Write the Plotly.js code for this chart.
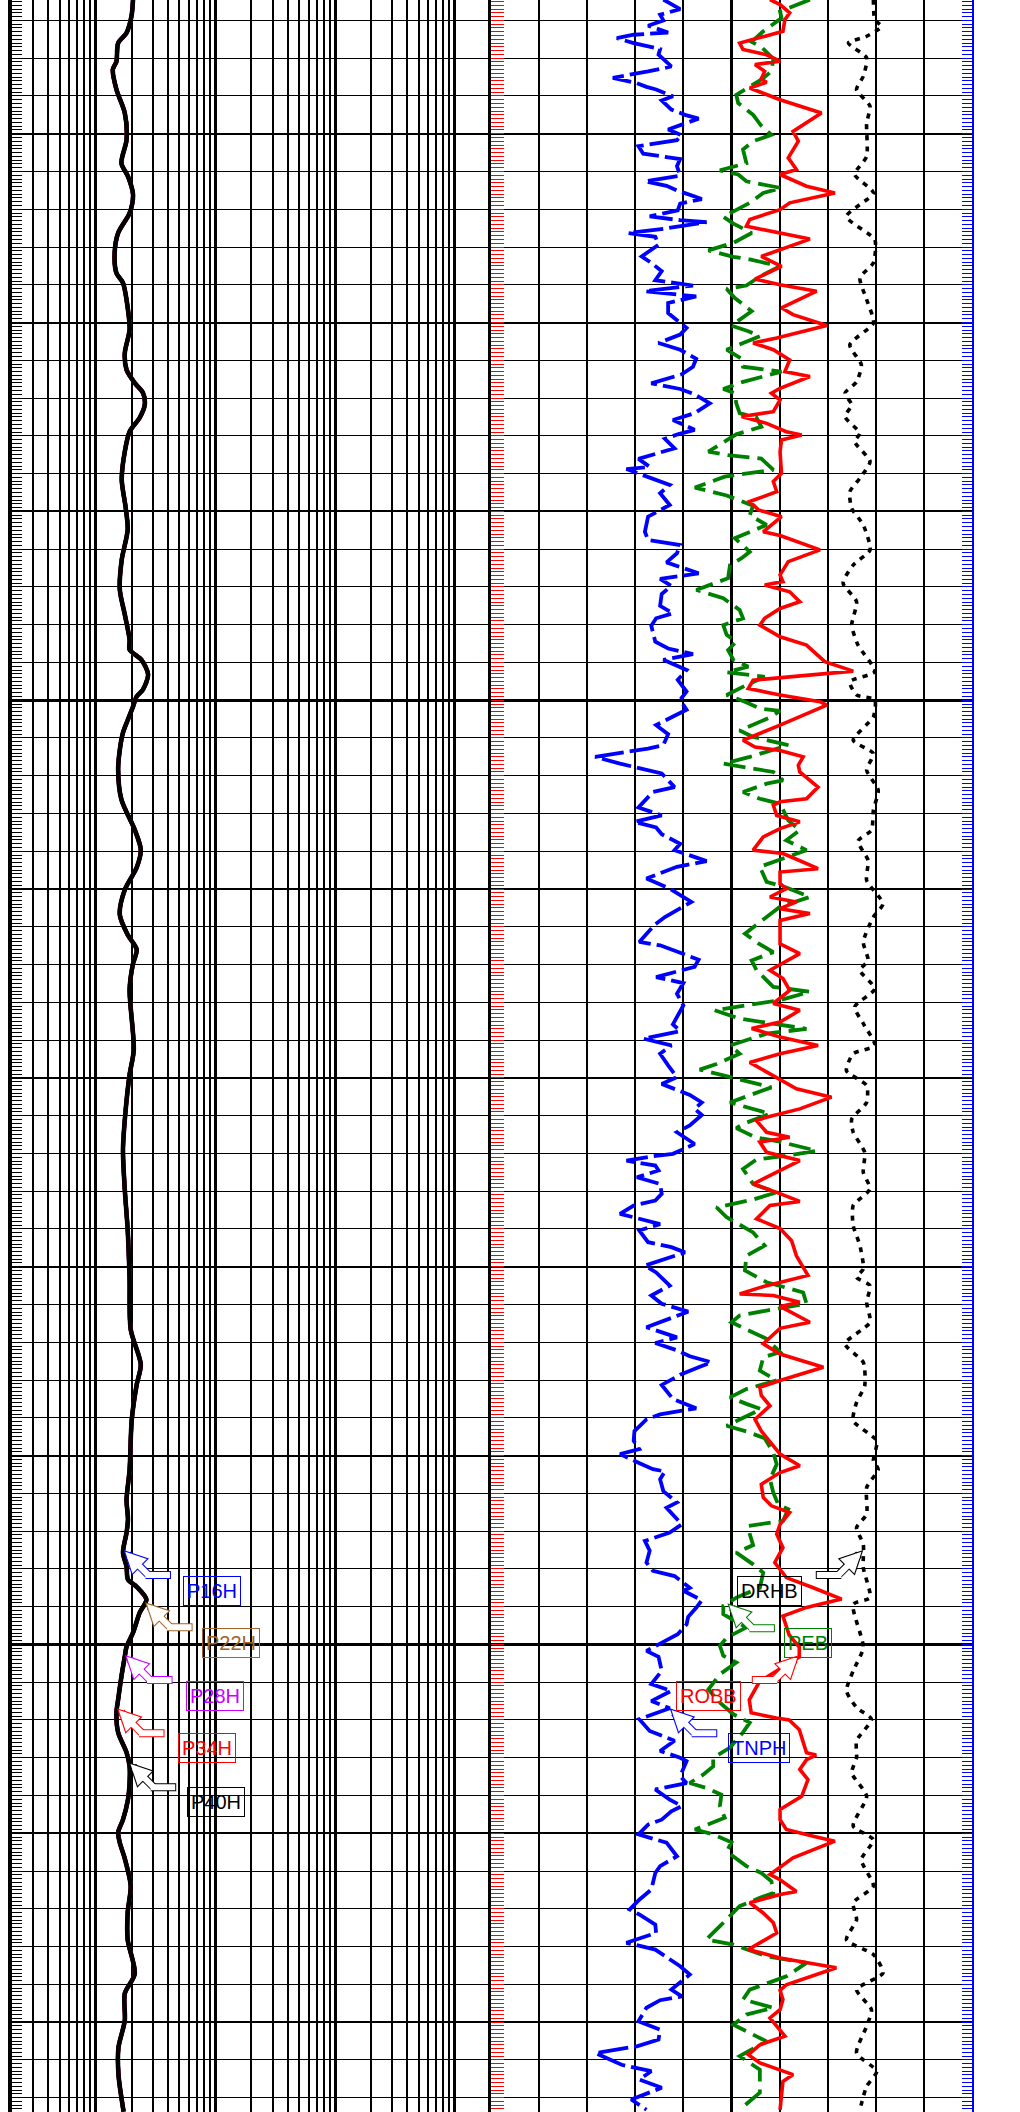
<!DOCTYPE html>
<html>
<head>
<meta charset="utf-8">
<script src="https://cdn.plot.ly/plotly-3.0.1.min.js"></script>
<style>
html,body{margin:0;padding:0;background:#fff;}
#chart{width:1020px;height:2112px;}
</style>
</head>
<body>
<div id="chart"></div>
<script>
// ---------------- DATA (depth in m, curve values) ----------------
const DEPTH_TOP = 1006.46;
const DEPTH_BOTTOM = 1062.38;

// Resistivity curves (ohm.m), track 1, log scale 0.2 - 2000
const DEPTH_RES = [1006.45,1006.89,1007.33,1007.60,1008.09,1008.30,1008.83,1009.45,1010.16,1010.78,1011.13,1011.61,1012.10,1012.63,1013.16,1013.69,1013.95,1014.66,1015.19,1015.81,1016.25,1016.60,1016.86,1017.17,1017.52,1017.89,1018.42,1019.16,1019.90,1020.48,1021.28,1022.07,1022.73,1023.40,1023.66,1023.93,1024.32,1024.72,1024.91,1025.17,1025.51,1025.86,1026.31,1026.84,1027.63,1028.43,1028.96,1029.43,1030.02,1030.68,1031.21,1031.60,1032.00,1032.66,1034.25,1034.91,1035.84,1036.90,1037.96,1039.02,1040.34,1041.66,1042.59,1043.12,1044.05,1045.37,1046.17,1046.69,1047.04,1047.57,1047.94,1048.28,1048.47,1048.81,1049.16,1049.69,1050.06,1050.32,1050.85,1051.46,1051.81,1052.33,1052.86,1053.23,1053.66,1054.11,1054.64,1054.98,1055.25,1055.67,1056.39,1057.10,1057.82,1058.72,1059.24,1059.96,1060.67,1061.39,1062.37];
const P16H = [2.05,1.99,1.81,1.54,1.49,1.39,1.49,1.75,1.81,1.64,1.86,2.05,1.92,1.54,1.44,1.49,1.69,1.86,1.92,1.75,1.81,2.12,2.48,2.57,2.33,1.92,1.75,1.65,1.78,1.85,1.65,1.59,1.75,1.92,1.92,2.41,2.74,2.48,2.19,2.05,1.86,1.69,1.59,1.54,1.64,2.12,2.38,2.20,1.75,1.59,1.85,2.20,2.04,1.92,2.08,1.92,1.78,1.69,1.75,1.85,1.92,1.96,2.38,2.20,2.00,1.92,1.81,1.86,1.81,1.69,1.81,1.86,2.19,2.65,2.33,2.05,1.81,1.75,1.64,1.54,1.49,1.54,1.81,1.92,1.92,1.86,1.69,1.54,1.59,1.75,1.96,1.85,1.85,2.12,1.75,1.75,1.55,1.55,1.71];
const P22H = [2.05,1.99,1.81,1.54,1.49,1.39,1.49,1.75,1.81,1.64,1.86,2.05,1.92,1.54,1.44,1.49,1.69,1.86,1.92,1.75,1.81,2.12,2.48,2.57,2.33,1.92,1.75,1.65,1.78,1.85,1.65,1.59,1.75,1.92,1.92,2.41,2.74,2.48,2.19,2.05,1.86,1.69,1.59,1.54,1.64,2.12,2.38,2.20,1.75,1.59,1.85,2.20,2.04,1.92,2.08,1.92,1.78,1.69,1.75,1.85,1.92,1.96,2.38,2.20,2.00,1.92,1.81,1.86,1.81,1.69,1.81,1.86,2.19,2.65,2.33,2.05,1.81,1.75,1.64,1.54,1.49,1.54,1.81,1.92,1.92,1.86,1.69,1.54,1.59,1.75,1.96,1.85,1.85,2.12,1.75,1.75,1.55,1.55,1.71];
const P28H = [2.05,1.99,1.81,1.54,1.49,1.39,1.49,1.75,1.81,1.64,1.86,2.05,1.92,1.54,1.44,1.49,1.69,1.86,1.92,1.75,1.81,2.12,2.48,2.57,2.33,1.92,1.75,1.65,1.78,1.85,1.65,1.59,1.75,1.92,1.92,2.41,2.74,2.48,2.19,2.05,1.86,1.69,1.59,1.54,1.64,2.12,2.38,2.20,1.75,1.59,1.85,2.20,2.04,1.92,2.08,1.92,1.78,1.69,1.75,1.85,1.92,1.96,2.38,2.20,2.00,1.92,1.81,1.86,1.81,1.69,1.81,1.86,2.19,2.65,2.33,2.05,1.81,1.75,1.64,1.54,1.49,1.54,1.81,1.92,1.92,1.86,1.69,1.54,1.59,1.75,1.96,1.85,1.85,2.12,1.75,1.75,1.55,1.55,1.71];
const P34H = [2.05,1.99,1.81,1.54,1.49,1.39,1.49,1.75,1.81,1.64,1.86,2.05,1.92,1.54,1.44,1.49,1.69,1.86,1.92,1.75,1.81,2.12,2.48,2.57,2.33,1.92,1.75,1.65,1.78,1.85,1.65,1.59,1.75,1.92,1.92,2.41,2.74,2.48,2.19,2.05,1.86,1.69,1.59,1.54,1.64,2.12,2.38,2.20,1.75,1.59,1.85,2.20,2.04,1.92,2.08,1.92,1.78,1.69,1.75,1.85,1.92,1.96,2.38,2.20,2.00,1.92,1.81,1.86,1.81,1.69,1.81,1.86,2.19,2.65,2.33,2.05,1.81,1.75,1.64,1.54,1.49,1.54,1.81,1.92,1.92,1.86,1.69,1.54,1.59,1.75,1.96,1.85,1.85,2.12,1.75,1.75,1.55,1.55,1.71];
const P40H = [2.05,1.99,1.81,1.54,1.49,1.39,1.49,1.75,1.81,1.64,1.86,2.05,1.92,1.54,1.44,1.49,1.69,1.86,1.92,1.75,1.81,2.12,2.48,2.57,2.33,1.92,1.75,1.65,1.78,1.85,1.65,1.59,1.75,1.92,1.92,2.41,2.74,2.48,2.19,2.05,1.86,1.69,1.59,1.54,1.64,2.12,2.38,2.20,1.75,1.59,1.85,2.20,2.04,1.92,2.08,1.92,1.78,1.69,1.75,1.85,1.92,1.96,2.38,2.20,2.00,1.92,1.81,1.86,1.81,1.69,1.81,1.86,2.19,2.65,2.33,2.05,1.81,1.75,1.64,1.54,1.49,1.54,1.81,1.92,1.92,1.86,1.69,1.54,1.59,1.75,1.96,1.85,1.85,2.12,1.75,1.75,1.55,1.55,1.71];

// Neutron porosity TNPH (p.u.), scale 45 -> -15
const DEPTH_TNPH = [1006.45,1006.70,1006.85,1007.00,1007.14,1007.32,1007.38,1007.47,1007.60,1007.76,
1007.91,1008.22,1008.35,1008.52,1008.66,1008.76,1008.83,1009.01,1009.12,1009.36,
1009.50,1009.60,1009.89,1010.04,1010.17,1010.33,1010.53,1010.67,1010.86,1011.11,
1011.26,1011.38,1011.50,1011.73,1011.85,1012.03,1012.19,1012.29,1012.34,1012.52,
1012.63,1012.73,1012.94,1013.25,1013.42,1013.64,1013.88,1014.02,1014.17,1014.31,
1014.48,1014.75,1015.14,1015.32,1015.54,1015.72,1015.96,1016.17,1016.37,1016.61,
1016.76,1016.90,1017.14,1017.40,1017.58,1017.84,1017.96,1018.08,1018.33,1018.61,
1018.82,1018.88,1019.30,1019.52,1019.83,1020.14,1020.54,1020.76,1020.89,1021.11,
1021.35,1021.64,1021.79,1021.97,1022.19,1022.50,1022.70,1022.83,1023.03,1023.45,
1023.63,1023.78,1023.93,1024.20,1024.46,1024.77,1024.99,1025.25,1025.66,1025.90,
1026.19,1026.28,1026.50,1026.68,1026.94,1027.16,1027.30,1027.43,1027.65,1027.84,
1028.05,1028.22,1028.37,1028.55,1028.80,1028.97,1029.26,1029.41,1029.72,1029.99,
1030.34,1030.74,1030.93,1031.40,1031.49,1031.62,1031.87,1032.06,1032.33,1032.49,
1032.77,1033.08,1033.58,1033.76,1033.96,1034.14,1034.36,1034.67,1034.98,1035.16,
1035.45,1035.65,1035.82,1035.98,1036.26,1036.44,1036.75,1037.01,1037.08,1037.19,
1037.32,1037.45,1037.63,1037.81,1038.07,1038.25,1038.38,1038.60,1038.72,1038.87,
1039.04,1039.35,1039.48,1039.62,1039.97,1040.15,1040.50,1040.76,1040.98,1041.19,
1041.60,1041.87,1042.02,1042.22,1042.37,1042.53,1042.66,1042.86,1043.13,1043.50,
1043.68,1043.75,1043.91,1044.04,1044.35,1044.61,1044.83,1044.96,1045.19,1045.36,
1045.42,1045.63,1045.94,1046.24,1046.38,1046.82,1047.04,1047.26,1047.52,1047.83,
1048.05,1048.19,1048.50,1048.58,1048.83,1049.03,1049.27,1049.47,1049.73,1050.17,
1050.33,1050.70,1051.05,1051.23,1051.50,1051.69,1051.98,1052.29,1052.55,1052.82,1053.00,
1053.09,1053.49,1053.67,1053.84,1054.11,1054.28,1054.42,1054.64,1054.77,1055.03,
1055.12,1055.25,1055.61,1055.87,1056.05,1056.49,1056.76,1057.02,1057.15,1057.42,
1057.64,1057.90,1058.08,1058.52,1058.74,1059.14,1059.32,1059.42,1059.62,1059.98,
1060.20,1060.46,1060.64,1060.82,1061.13,1061.30,1061.52,1061.74,1062.05,1062.32];
const TNPH = [23.5,21.4,23.9,23.5,25.4,22.9,27.2,29.3,27.2,23.9,
24.1,22.5,25.4,29.8,26.8,25.6,24.4,22.3,23.7,22.5,
20.8,19.1,22.9,21.2,21.8,26.6,26.0,21.4,21.8,21.4,
25.8,23.1,21.8,18.7,21.4,21.7,25.2,21.4,18.1,23.5,
27.9,24.5,24.1,26.2,25.0,23.7,24.5,19.8,25.8,19.4,
22.9,22.9,20.6,21.4,24.1,21.4,19.4,19.8,21.2,25.0,
21.4,19.6,17.7,19.6,22.3,19.6,21.7,23.3,22.1,26.6,
25.2,28.1,22.7,23.9,22.7,25.4,25.8,25.4,21.4,21.8,
23.1,19.1,23.9,22.5,23.7,23.9,22.3,24.4,25.0,24.5,
22.9,19.8,23.5,20.6,21.7,20.6,21.4,20.6,24.4,22.9,
23.5,25.4,32.0,28.9,23.7,22.7,22.1,24.8,25.8,26.6,
23.7,27.1,24.4,23.7,21.4,22.1,18.1,21.8,25.6,22.7,
20.0,23.3,24.5,26.5,23.9,22.3,19.1,19.6,24.4,21.0,
21.8,21.0,22.3,21.4,26.0,22.5,23.9,22.9,21.8,23.7,
20.2,18.7,19.6,18.7,20.2,21.8,19.6,22.3,25.0,28.1,
24.5,24.1,26.8,23.9,23.7,24.5,27.2,28.9,26.8,23.9,
26.5,25.4,22.5,20.8,25.8,24.4,22.7,25.0,23.7,20.4,
25.6,21.8,24.5,21.7,20.2,17.5,19.1,21.4,23.7,22.3,
20.2,19.4,23.9,25.6,27.1,27.2,26.5,28.9,26.6,24.8,
23.3,23.9,23.5,21.8,23.1,21.2,22.7,25.8,25.2,25.6,
24.8,22.1,20.2,21.0,18.7,19.4,20.4,20.6,21.7,25.6,
24.1,23.7,25.0,22.5,25.0,22.7,26.5,25.2,22.1,23.9,21.4,
20.6,21.4,20.6,24.5,22.7,21.2,22.5,23.7,25.4,26.6,
25.0,23.1,21.8,23.9,24.5,25.0,26.5,27.7,26.5,24.5,
24.4,28.1,24.5,21.4,20.2,22.5,21.2,23.9,25.6,26.6,
23.9,24.1,26.8,32.0,28.7,25.0,26.5,23.7,27.5,25.6];

// Bulk density ROBB (g/cc), scale 1.95 -> 2.95  [depth, value]
const ROBB = [[1006.45,2.530],[1006.58,2.551],[1006.80,2.571],[1006.98,2.561],[1007.29,2.557],[1007.60,2.467],[1007.77,2.474],[1007.91,2.523],[1008.08,2.551],[1008.17,2.499],
[1008.35,2.519],[1008.55,2.512],[1008.64,2.523],[1008.79,2.488],[1009.10,2.551],[1009.23,2.585],[1009.45,2.637],[1009.94,2.578],[1010.20,2.589],[1010.64,2.568],
[1010.95,2.585],[1011.08,2.551],[1011.39,2.606],[1011.57,2.665],[1011.83,2.571],[1012.01,2.551],[1012.27,2.488],[1012.45,2.481],[1012.63,2.551],[1012.79,2.613],
[1013.25,2.512],[1013.51,2.554],[1013.85,2.499],[1014.00,2.551],[1014.17,2.627],[1014.61,2.554],[1014.79,2.578],[1015.08,2.648],[1015.41,2.544],[1015.54,2.495],
[1015.72,2.537],[1015.99,2.571],[1016.30,2.561],[1016.43,2.613],[1016.74,2.551],[1016.87,2.533],[1017.05,2.551],[1017.36,2.537],[1017.49,2.471],[1017.67,2.523],
[1017.89,2.564],[1017.98,2.596],[1018.11,2.554],[1018.42,2.551],[1018.99,2.554],[1019.21,2.537],[1019.48,2.544],[1019.74,2.488],[1019.96,2.506],[1020.14,2.554],
[1020.54,2.516],[1020.64,2.551],[1021.02,2.634],[1021.33,2.568],[1021.68,2.551],[1021.86,2.557],[1021.95,2.519],[1022.13,2.571],[1022.39,2.592],[1022.57,2.551],
[1022.83,2.519],[1023.01,2.509],[1023.32,2.551],[1023.54,2.606],[1023.98,2.644],[1024.23,2.703],[1024.47,2.495],[1024.69,2.485],[1024.86,2.551],[1025.04,2.634],
[1025.13,2.648],[1025.49,2.585],[1025.66,2.551],[1026.06,2.474],[1026.24,2.499],[1026.33,2.551],[1026.50,2.599],[1026.72,2.589],[1026.90,2.592],[1027.30,2.630],
[1027.61,2.606],[1027.69,2.551],[1027.78,2.537],[1028.05,2.544],[1028.22,2.592],[1028.40,2.551],[1028.62,2.516],[1028.97,2.495],[1029.06,2.557],[1029.17,2.578],
[1029.46,2.630],[1029.55,2.551],[1029.86,2.551],[1029.99,2.564],[1030.21,2.530],[1030.34,2.585],[1030.52,2.551],[1030.65,2.613],[1030.83,2.551],[1031.45,2.551],
[1031.71,2.592],[1032.15,2.530],[1032.37,2.557],[1032.68,2.571],[1033.03,2.537],[1033.21,2.592],[1033.52,2.551],[1033.69,2.492],[1033.92,2.551],[1034.14,2.630],
[1034.36,2.551],[1034.59,2.488],[1034.76,2.512],[1035.03,2.551],[1035.29,2.585],[1035.51,2.658],[1035.82,2.592],[1036.04,2.523],[1036.13,2.502],[1036.44,2.523],
[1036.57,2.571],[1036.70,2.509],[1036.97,2.523],[1037.19,2.592],[1037.59,2.530],[1037.81,2.495],[1038.03,2.544],[1038.27,2.592],[1038.38,2.530],[1038.73,2.502],
[1038.99,2.551],[1039.31,2.575],[1039.71,2.585],[1040.23,2.609],[1040.54,2.512],[1040.72,2.467],[1040.76,2.537],[1040.94,2.592],[1041.05,2.551],[1041.47,2.613],
[1041.63,2.551],[1042.04,2.516],[1042.31,2.551],[1042.66,2.641],[1043.01,2.551],[1043.19,2.509],[1043.41,2.512],[1043.68,2.530],[1044.04,2.499],[1044.35,2.512],
[1044.96,2.551],[1045.27,2.592],[1045.45,2.551],[1045.76,2.512],[1046.11,2.516],[1046.33,2.533],[1046.51,2.571],[1046.82,2.551],[1047.08,2.544],[1047.44,2.557],
[1047.83,2.540],[1048.23,2.564],[1048.50,2.620],[1048.80,2.679],[1049.02,2.606],[1049.25,2.557],[1049.75,2.570],[1050.07,2.591],[1050.33,2.591],[1050.99,2.508],
[1051.47,2.487],[1051.81,2.491],[1051.95,2.543],[1052.00,2.570],[1052.26,2.591],[1052.87,2.606],[1052.93,2.626],[1053.05,2.606],[1053.31,2.592],[1053.58,2.609],
[1054.02,2.596],[1054.37,2.551],[1054.64,2.551],[1054.90,2.564],[1055.08,2.620],[1055.21,2.665],[1055.65,2.578],[1056.09,2.530],[1056.23,2.551],[1056.54,2.585],
[1056.62,2.551],[1056.84,2.488],[1057.11,2.516],[1057.37,2.537],[1057.64,2.544],[1058.08,2.485],[1058.30,2.551],[1058.56,2.668],[1059.01,2.564],[1059.16,2.551],
[1059.40,2.557],[1059.67,2.551],[1059.89,2.530],[1060.37,2.561],[1060.60,2.509],[1060.86,2.485],[1061.08,2.509],[1061.39,2.578],[1061.57,2.557],[1062.32,2.551]];

// Photoelectric factor PEB (b/e), scale 0 -> 10  [depth, value]
const PEB = [[1006.45,6.63],[1006.76,6.01],[1006.94,6.04],[1007.29,5.66],[1007.57,5.42],[1007.70,5.62],[1008.02,5.87],[1008.35,5.83],[1008.57,5.62],[1008.97,5.10],
[1009.19,5.14],[1009.50,5.45],[1009.79,5.62],[1010.03,5.83],[1010.20,5.45],[1010.42,5.24],[1010.78,5.31],[1010.97,4.76],[1011.08,5.14],[1011.26,5.31],
[1011.44,6.04],[1011.57,5.66],[1011.83,5.38],[1012.20,4.83],[1012.38,5.04],[1012.63,5.42],[1012.89,5.04],[1013.09,4.52],[1013.26,5.04],[1013.33,5.38],
[1013.51,6.01],[1013.78,5.59],[1014.02,5.31],[1014.11,4.90],[1014.35,5.07],[1014.70,5.42],[1015.08,5.00],[1015.23,5.35],[1015.36,5.59],[1015.72,4.90],
[1015.96,5.21],[1016.17,5.24],[1016.30,6.04],[1016.57,5.24],[1016.76,4.83],[1016.87,5.07],[1017.14,5.10],[1017.40,5.17],[1017.52,5.52],[1017.76,5.62],
[1017.96,5.10],[1018.29,4.69],[1018.42,4.52],[1018.52,4.97],[1018.60,5.62],[1018.90,5.87],[1018.99,5.38],[1019.08,4.86],[1019.37,4.24],[1019.58,4.90],
[1019.85,5.45],[1020.10,5.38],[1020.36,5.73],[1020.71,5.07],[1021.07,5.38],[1021.24,5.21],[1021.42,4.97],[1021.77,4.93],[1022.08,4.27],[1022.30,4.83],
[1022.61,5.17],[1022.83,5.24],[1023.01,4.83],[1023.27,4.90],[1023.45,5.10],[1023.67,4.93],[1023.93,5.04],[1024.11,5.35],[1024.26,4.90],[1024.38,5.69],
[1024.60,5.31],[1024.86,4.90],[1025.04,5.28],[1025.22,5.59],[1025.28,6.01],[1025.44,5.83],[1025.80,5.17],[1025.97,5.45],[1026.19,6.18],[1026.50,5.38],
[1026.68,4.83],[1026.81,5.52],[1026.90,5.87],[1027.12,6.07],[1027.21,5.73],[1027.43,5.24],[1027.61,5.59],[1027.74,6.01],[1028.18,6.18],[1028.44,6.42],
[1028.71,6.14],[1028.97,6.56],[1029.15,6.14],[1029.41,5.59],[1029.81,5.73],[1029.96,6.14],[1030.21,6.63],[1030.47,6.01],[1030.74,5.73],[1031.18,5.28],
[1031.44,5.56],[1031.67,5.87],[1031.89,5.42],[1032.15,5.52],[1032.59,5.87],[1032.72,6.63],[1032.94,6.01],[1033.21,4.65],[1033.43,5.17],[1033.56,5.83],
[1033.70,6.56],[1033.83,5.73],[1034.14,4.97],[1034.36,5.17],[1034.63,4.69],[1034.78,4.34],[1034.98,4.97],[1035.07,5.31],[1035.25,5.83],[1035.65,4.97],
[1035.95,5.80],[1036.22,5.24],[1036.33,5.10],[1036.57,5.49],[1036.69,6.01],[1036.93,6.77],[1037.06,6.14],[1037.16,5.52],[1037.41,5.24],[1037.81,5.45],
[1038.03,5.94],[1038.22,5.45],[1038.43,4.69],[1038.69,4.90],[1039.09,5.45],[1039.44,5.69],[1039.71,5.31],[1040.10,5.28],[1040.41,5.73],[1040.68,6.49],
[1040.98,6.56],[1041.16,5.73],[1041.29,5.17],[1041.47,5.00],[1041.73,5.45],[1041.91,5.73],[1042.26,6.01],[1042.40,5.66],[1042.75,5.59],[1043.01,5.94],
[1043.24,5.31],[1043.46,4.97],[1043.63,5.31],[1043.77,5.62],[1044.21,4.90],[1044.36,5.31],[1044.54,5.69],[1044.92,5.87],[1045.23,5.94],[1045.63,5.80],
[1045.98,5.87],[1046.29,5.97],[1046.42,6.18],[1046.73,6.07],[1046.86,5.35],[1047.08,5.38],[1047.37,5.45],[1047.57,5.10],[1047.88,5.45],[1048.10,5.66],
[1048.50,5.59],[1048.76,5.10],[1048.98,4.83],[1049.20,4.83],[1049.55,5.31],[1049.82,4.90],[1050.04,4.76],[1050.30,4.83],[1050.48,5.10],[1050.79,4.76],
[1051.19,4.52],[1051.54,4.76],[1051.85,5.04],[1052.07,5.38],[1052.33,5.24],[1052.73,4.97],[1053.00,4.62],[1053.23,4.62],[1053.45,4.41],[1053.67,4.13],
[1053.80,4.48],[1053.98,4.79],[1054.28,4.76],[1054.59,4.86],[1054.90,4.24],[1055.03,4.62],[1055.24,5.00],[1055.48,4.90],[1055.87,5.31],[1056.05,5.62],
[1056.27,5.83],[1056.58,5.87],[1056.71,5.59],[1056.93,5.17],[1057.46,4.76],[1057.81,4.48],[1057.95,5.04],[1058.26,5.73],[1058.43,6.56],[1058.79,6.14],
[1059.14,5.38],[1059.40,5.24],[1059.62,5.87],[1059.80,5.31],[1060.07,5.04],[1060.51,5.73],[1060.90,5.17],[1061.26,5.59],[1061.87,5.59],[1062.32,5.17]];

// Density correction DRHB (g/cc), scale -0.75 -> 0.25  [depth, value]
const DRHB = [[1006.45,0.045],[1006.98,0.048],[1007.16,0.062],[1007.42,0.031],[1007.60,-0.007],[1007.99,0.031],[1008.48,0.024],[1008.83,0.010],[1009.27,0.038],[1009.72,0.031],
[1010.60,0.031],[1011.08,0.006],[1011.57,0.045],[1012.19,-0.011],[1012.81,0.048],[1013.42,0.045],[1013.82,0.017],[1014.39,0.031],[1015.01,0.045],[1015.59,-0.004],
[1016.12,0.020],[1016.57,0.010],[1016.87,-0.014],[1017.18,0.000],[1017.49,-0.014],[1017.93,0.017],[1018.15,0.006],[1018.68,0.038],[1019.12,0.017],[1019.48,-0.004],
[1019.92,0.000],[1020.36,0.024],[1021.02,0.038],[1021.42,0.003],[1021.90,-0.018],[1022.39,0.010],[1023.01,0.000],[1023.54,0.013],[1024.24,0.048],[1024.51,-0.004],
[1024.86,0.010],[1024.99,0.048],[1025.44,0.045],[1026.06,0.003],[1026.41,0.045],[1026.85,0.031],[1027.38,0.055],[1027.91,0.045],[1028.44,0.041],[1028.73,0.013],
[1029.24,0.034],[1029.77,0.031],[1030.39,0.065],[1030.74,0.045],[1031.40,0.024],[1031.89,0.034],[1032.15,0.017],[1032.64,0.048],[1033.12,0.006],[1033.56,0.024],
[1034.14,0.048],[1034.36,0.003],[1034.81,-0.011],[1035.20,0.031],[1035.65,0.031],[1036.09,0.000],[1036.44,0.003],[1036.97,0.027],[1037.50,0.024],[1037.94,0.038],
[1038.38,0.003],[1038.91,0.003],[1039.44,0.017],[1040.06,0.024],[1040.28,0.010],[1040.50,0.038],[1040.94,0.031],[1041.47,0.038],[1042.04,-0.014],[1042.53,0.024],
[1043.15,0.027],[1043.59,0.010],[1044.08,0.003],[1044.61,0.052],[1045.14,0.045],[1045.36,0.055],[1045.85,0.031],[1046.55,0.031],[1046.91,0.010],[1047.35,0.024],
[1047.97,0.024],[1048.76,0.038],[1048.94,0.003],[1050.08,0.024],[1050.70,0.003],[1051.23,-0.011],[1051.67,0.010],[1051.98,0.041],[1052.55,0.010],[1053.00,0.010],
[1053.40,0.000],[1054.02,0.031],[1054.81,0.003],[1055.17,0.045],[1055.70,0.020],[1056.40,0.045],[1056.84,0.003],[1057.29,0.010],[1057.82,-0.011],[1058.21,0.045],
[1058.70,0.065],[1059.14,0.010],[1059.67,0.041],[1060.11,0.031],[1060.82,0.010],[1061.30,0.052],[1061.70,0.031],[1062.32,0.017]];

// Curve labels: name and depth of the arrow tip
const LABEL_NAMES  = ['P16H','P22H','P28H','P34H','P40H','DRHB','PEB','ROBB','TNPH'];
const LABEL_DEPTHS = [1047.50,1048.88,1050.28,1051.69,1053.12,1047.50,1048.91,1050.28,1051.69];

// ---------------- STYLE ----------------
const FONT = '"Liberation Sans", Arial, Helvetica, sans-serif';
const RES_COLORS = {P16H:'#0000ff', P22H:'#a0642a', P28H:'#cc00ff', P34H:'#ff0000', P40H:'#000000'};
const LABEL_STYLE = {
  P16H:{color:'#0000ff', dir: 1, lx: 89, ly:41},
  P22H:{color:'#a0642a', dir: 1, lx: 86, ly:41},
  P28H:{color:'#cc00ff', dir: 1, lx: 90, ly:41},
  P34H:{color:'#ff0000', dir: 1, lx: 90, ly:40},
  P40H:{color:'#000000', dir: 1, lx: 87, ly:40},
  DRHB:{color:'#000000', dir:-1, lx:-94, ly:41},
  PEB: {color:'#008000', dir: 1, lx: 81, ly:40},
  ROBB:{color:'#ff0000', dir:-1, lx:-91, ly:41},
  TNPH:{color:'#0000ff', dir: 1, lx: 89, ly:40}
};

const yRange = [DEPTH_BOTTOM, DEPTH_TOP];
const logRange = [Math.log10(0.2), Math.log10(2000)];

// ---------------- TRACES ----------------
const traces = [];
// empty helper traces so that every (overlay) grid axis pair exists; main subplots first
[['x2','y2'],['x3','y'],['x4','y2'],['x','y3'],['x2','y4'],['x2','y5']].forEach(p=>{
  traces.push({type:'scatter', mode:'lines', x:[], y:[], xaxis:p[0], yaxis:p[1], hoverinfo:'skip', showlegend:false});
});

const RES = {P16H, P22H, P28H, P34H, P40H};
['P16H','P22H','P28H','P34H','P40H'].forEach(n=>{
  traces.push({type:'scatter', mode:'lines', name:n, x:RES[n], y:DEPTH_RES, xaxis:'x', yaxis:'y',
    line:{color:RES_COLORS[n], width: n==='P40H'?4.6:4, shape:'spline', smoothing:0.8}});
});

traces.push({type:'scatter', mode:'lines', name:'PEB', x:PEB.map(p=>p[1]), y:PEB.map(p=>p[0]), xaxis:'x5', yaxis:'y2',
  line:{color:'#008000', width:3.8, dash:'22px,8px'}});
traces.push({type:'scatter', mode:'lines', name:'DRHB', x:DRHB.map(p=>p[1]), y:DRHB.map(p=>p[0]), xaxis:'x6', yaxis:'y2',
  line:{color:'#000000', width:3.6, dash:'5px,6px', shape:'spline', smoothing:0.6}});
traces.push({type:'scatter', mode:'lines', name:'ROBB', x:ROBB.map(p=>p[1]), y:ROBB.map(p=>p[0]), xaxis:'x7', yaxis:'y2',
  line:{color:'#ff0000', width:3.6}});
traces.push({type:'scatter', mode:'lines', name:'TNPH', x:TNPH, y:DEPTH_TNPH, xaxis:'x8', yaxis:'y2',
  line:{color:'#0000ff', width:3.8, dash:'30px,6px'}});

// ---------------- ANNOTATIONS ----------------
function interp(ds, vs, d){
  for(let i=0;i<ds.length-1;i++){
    if(ds[i]<=d && ds[i+1]>=d){
      const t=(d-ds[i])/(ds[i+1]-ds[i]);
      return vs[i]+t*(vs[i+1]-vs[i]);
    }
  }
  return vs[vs.length-1];
}
const CURVE_REF = {
  P16H:{ds:DEPTH_RES, vs:P16H, xref:'x', log:true},
  P22H:{ds:DEPTH_RES, vs:P22H, xref:'x', log:true},
  P28H:{ds:DEPTH_RES, vs:P28H, xref:'x', log:true},
  P34H:{ds:DEPTH_RES, vs:P34H, xref:'x', log:true},
  P40H:{ds:DEPTH_RES, vs:P40H, xref:'x', log:true},
  DRHB:{ds:DRHB.map(p=>p[0]), vs:DRHB.map(p=>p[1]), xref:'x6', log:false},
  PEB: {ds:PEB.map(p=>p[0]), vs:PEB.map(p=>p[1]), xref:'x5', log:false},
  ROBB:{ds:ROBB.map(p=>p[0]), vs:ROBB.map(p=>p[1]), xref:'x7', log:false},
  TNPH:{ds:DEPTH_TNPH, vs:TNPH, xref:'x8', log:false}
};
const outer=[], inner=[], texts=[];
LABEL_NAMES.forEach((n,i)=>{
  const c = CURVE_REF[n], s = LABEL_STYLE[n], d = LABEL_DEPTHS[i];
  const v = interp(c.ds, c.vs, d);
  const x = c.log ? Math.log10(v) : v;
  const yref = c.xref==='x' ? 'y' : 'y2';
  const base = {x:x, y:d, xref:c.xref, yref:yref, text:'', showarrow:true, font:{size:1}, borderpad:0};
  outer.push(Object.assign({}, base, {ax:s.dir*25, ay:25, arrowcolor:s.color, arrowwidth:8, arrowhead:2, arrowsize:0.6, standoff:0}));
  outer.push(Object.assign({}, base, {xshift:s.dir*22, yshift:-25, ax:s.dir*26, ay:0, arrowcolor:s.color, arrowwidth:8, arrowhead:0}));
  inner.push(Object.assign({}, base, {ax:s.dir*25, ay:25, arrowcolor:'#ffffff', arrowwidth:6, arrowhead:2, arrowsize:0.68, standoff:2.5}));
  inner.push(Object.assign({}, base, {xshift:s.dir*22, yshift:-25, ax:s.dir*25, ay:0, arrowcolor:'#ffffff', arrowwidth:6, arrowhead:0}));
  texts.push({x:x, y:d, xref:c.xref, yref:yref, text:n, showarrow:false, xshift:s.lx, yshift:-s.ly,
    font:{family:FONT, size:20, color:s.color}, bordercolor:s.color, borderwidth:1, borderpad:3,
    bgcolor:'rgba(0,0,0,0)'});
});

// ---------------- LAYOUT ----------------
const gridY = {range:yRange, dtick:5, tick0:1000, showgrid:true, gridcolor:'#000', gridwidth:2,
  minor:{dtick:1, tick0:1000, showgrid:true, gridcolor:'#000', gridwidth:1, ticks:''},
  ticks:'', showticklabels:false, zeroline:false};
const hidden = {visible:false, showgrid:false, zeroline:false};

const layout = {
  width:1020, height:2112,
  margin:{l:12, r:48, t:0, b:0, pad:0},
  paper_bgcolor:'#ffffff', plot_bgcolor:'#ffffff',
  showlegend:false, hovermode:false,
  xaxis:{domain:[0,0.4989], type:'log', range:logRange, anchor:'y', dtick:'D1', showgrid:true, gridcolor:'#000', gridwidth:2,
    ticks:'', showticklabels:false, zeroline:false, showline:false},
  xaxis3:{overlaying:'x', anchor:'y', type:'log', range:logRange, dtick:1, showgrid:true, gridcolor:'#000', gridwidth:3,
    ticks:'', showticklabels:false, zeroline:false, showline:false},
  xaxis2:{domain:[0.4989,1], range:[0,10], anchor:'y2', dtick:1, tick0:0, showgrid:true, gridcolor:'#000', gridwidth:2,
    ticks:'', showticklabels:false, zeroline:false, showline:false},
  xaxis4:{overlaying:'x2', anchor:'y2', range:[0,10], tickvals:[5], showgrid:true, gridcolor:'#000', gridwidth:3,
    ticks:'', showticklabels:false, zeroline:false, showline:false},
  xaxis5:Object.assign({overlaying:'x2', anchor:'y2', range:[0,10]}, hidden),
  xaxis6:Object.assign({overlaying:'x2', anchor:'y2', range:[-0.75,0.25]}, hidden),
  xaxis7:Object.assign({overlaying:'x2', anchor:'y2', range:[1.95,2.95]}, hidden),
  xaxis8:Object.assign({overlaying:'x2', anchor:'y2', range:[45,-15]}, hidden),
  yaxis:Object.assign({domain:[0,1], anchor:'x', showline:true, linecolor:'#000', linewidth:4}, gridY),
  yaxis3:{overlaying:'y', anchor:'x', side:'left', range:yRange, dtick:25, tick0:1000, showgrid:true, gridcolor:'#000', gridwidth:3,
    ticks:'inside', ticklen:10, tickcolor:'#000', tickwidth:1,
    minor:{dtick:0.1, tick0:1000, ticks:'inside', ticklen:10, tickcolor:'#000', tickwidth:1, showgrid:false},
    showticklabels:false, zeroline:false, showline:false},
  yaxis2:Object.assign({domain:[0,1], anchor:'x2', showline:true, linecolor:'#000', linewidth:3}, gridY),
  yaxis4:{overlaying:'y2', anchor:'x2', side:'left', range:yRange, dtick:25, tick0:1000, showgrid:true, gridcolor:'#000', gridwidth:3,
    ticks:'inside', ticklen:13, tickcolor:'#ff0000', tickwidth:1,
    minor:{dtick:0.1, tick0:1000, ticks:'inside', ticklen:13, tickcolor:'#ff0000', tickwidth:1, showgrid:false},
    showticklabels:false, zeroline:false, showline:false},
  yaxis5:{overlaying:'y2', anchor:'x2', side:'right', range:yRange, dtick:25, tick0:1000, showgrid:false,
    ticks:'inside', ticklen:10, tickcolor:'#0000ff', tickwidth:1,
    minor:{dtick:0.1, tick0:1000, ticks:'inside', ticklen:10, tickcolor:'#0000ff', tickwidth:1, showgrid:false},
    showticklabels:false, zeroline:false, showline:true, linecolor:'#0000ff', linewidth:2},
  annotations: outer.concat(inner, texts)
};

Plotly.newPlot('chart', traces, layout, {staticPlot:true, displayModeBar:false});
</script>
</body>
</html>
